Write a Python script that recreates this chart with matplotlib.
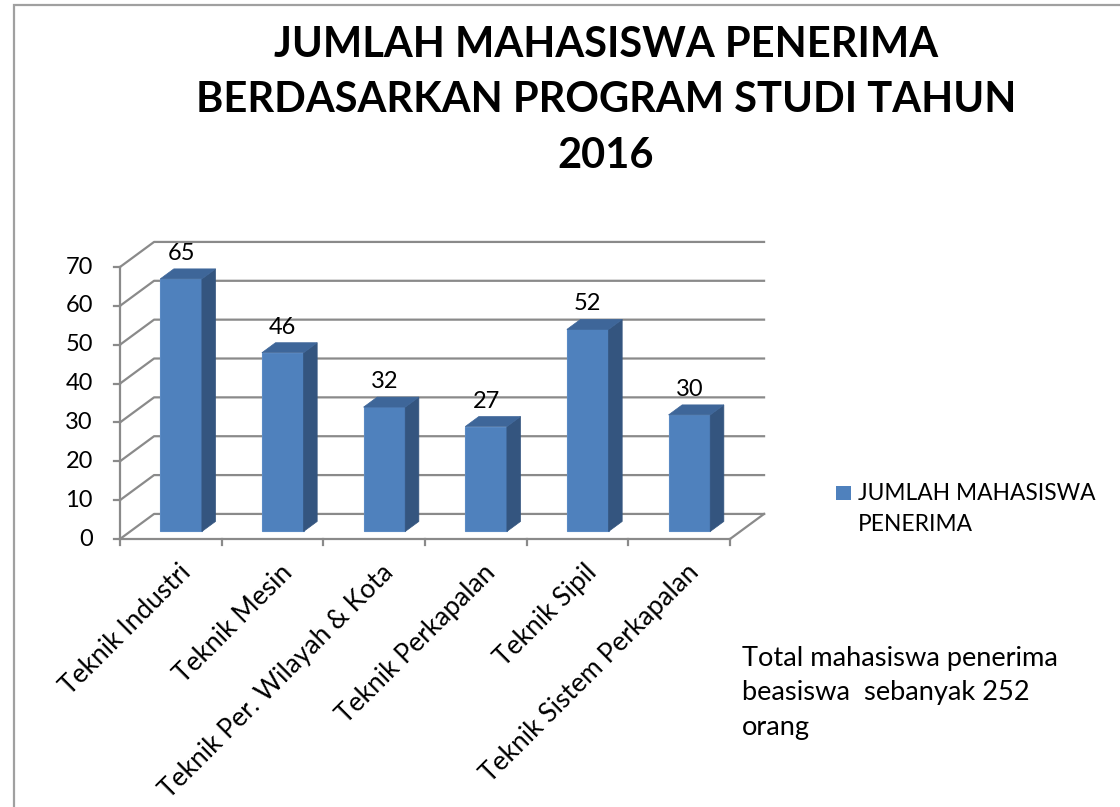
import matplotlib.pyplot as plt
from matplotlib.patches import Polygon, Rectangle

plt.rcParams['font.family'] = ['Lato', 'DejaVu Sans']

programs = ['Teknik Industri', 'Teknik Mesin', 'Teknik Per. Wilayah & Kota',
            'Teknik Perkapalan', 'Teknik Sipil', 'Teknik Sistem Perkapalan']
jumlah = [65, 46, 32, 27, 52, 30]
y_ticks = [0, 10, 20, 30, 40, 50, 60, 70]
series_name = 'JUMLAH MAHASISWA\nPENERIMA'
title = 'JUMLAH MAHASISWA PENERIMA\nBERDASARKAN PROGRAM STUDI TAHUN\n2016'
note = 'Total mahasiswa penerima\nbeasiswa  sebanyak 252\norang'

W, H = 1120, 807
fig = plt.figure(figsize=(W / 100, H / 100), dpi=100)
ax = fig.add_axes([120 / W, 1 - 539 / H, 610 / W, 272 / H])
n = len(programs)
ax.set_xlim(0, n)
ax.set_ylim(0, 70)
ax.axis('off')

# depth of the fake 3d box, in data units
DX, DY = 0.335, 6.45


def p(x, y, d):
    return (x + d * DX, y + d * DY)


grid = '#8a8a8a'
# back wall gridlines + left wall diagonals
for v in y_ticks:
    xs, ys = zip(p(0, v, 0), p(0, v, 1), p(n, v, 1))
    ax.plot(xs, ys, color=grid, lw=1.6, clip_on=False, zorder=1)
    ax.plot([-0.055, 0], [v, v], color=grid, lw=1.6, clip_on=False, zorder=1)
    ax.annotate(str(v), (0, v), xytext=(-27, 0), textcoords='offset pixels',
                ha='right', va='center', fontsize=17)

# floor front edge, right edge, front axis
ax.plot([0, n], [0, 0], color=grid, lw=1.6, clip_on=False, zorder=1)
xs, ys = zip(p(n, 0, 0), p(n, 0, 1))
ax.plot(xs, ys, color=grid, lw=1.6, clip_on=False, zorder=1)
ax.plot([0, 0], [0, 70], color=grid, lw=1.6, clip_on=False, zorder=1)
for i in range(n + 1):
    ax.plot([i, i], [0, -1.6], color=grid, lw=1.6, clip_on=False, zorder=1)

# bars
BW = 0.205
D0, D1 = 0.3, 0.7
for i, v in enumerate(jumlah):
    c = i + 0.5
    front = [p(c - BW, 0, D0), p(c + BW, 0, D0), p(c + BW, v, D0), p(c - BW, v, D0)]
    side = [p(c + BW, 0, D0), p(c + BW, 0, D1), p(c + BW, v, D1), p(c + BW, v, D0)]
    top = [p(c - BW, v, D0), p(c + BW, v, D0), p(c + BW, v, D1), p(c - BW, v, D1)]
    ax.add_patch(Polygon(front, closed=True, fc='#4F81BD', ec='#5a8ac4', lw=0.8,
                         clip_on=False, zorder=3))
    ax.add_patch(Polygon(side, closed=True, fc='#34557F', ec='#34557F', lw=0.5,
                         clip_on=False, zorder=3))
    ax.add_patch(Polygon(top, closed=True, fc='#3E6699', ec='#3E6699', lw=0.5,
                         clip_on=False, zorder=3))
    ax.annotate(str(v), (p(c, v, D0)[0], p(c, v, D1)[1]), xytext=(0, 9),
                textcoords='offset pixels', ha='center', va='baseline',
                fontsize=17)

    ax.annotate(programs[i], (c, 0), xytext=(7, -21), textcoords='offset pixels',
                rotation=45, rotation_mode='anchor', ha='right', va='top',
                fontsize=19)

# title
fig.text(606 / W, 1 - 26 / H, title, ha='center', va='top', fontsize=30,
         fontweight='bold', linespacing=1.56)

# legend
fig.add_artist(Rectangle((836 / W, 1 - 500 / H), 15 / W, 14 / H,
                         fc='#4F81BD', ec='none', transform=fig.transFigure))
fig.text(858 / W, 1 - 483 / H, series_name, ha='left', va='top', fontsize=16.4,
         linespacing=1.6)

# note
fig.text(742 / W, 1 - 646 / H, note, ha='left', va='top', fontsize=19.6,
         linespacing=1.47)

# chart border
fig.add_artist(Rectangle((14 / W, -0.1), 1.2, 1.1 - 5 / H, fill=False,
                         ec='#a0a0a0', lw=1.6, transform=fig.transFigure))

fig.savefig('out.png', dpi=100, facecolor='white')
